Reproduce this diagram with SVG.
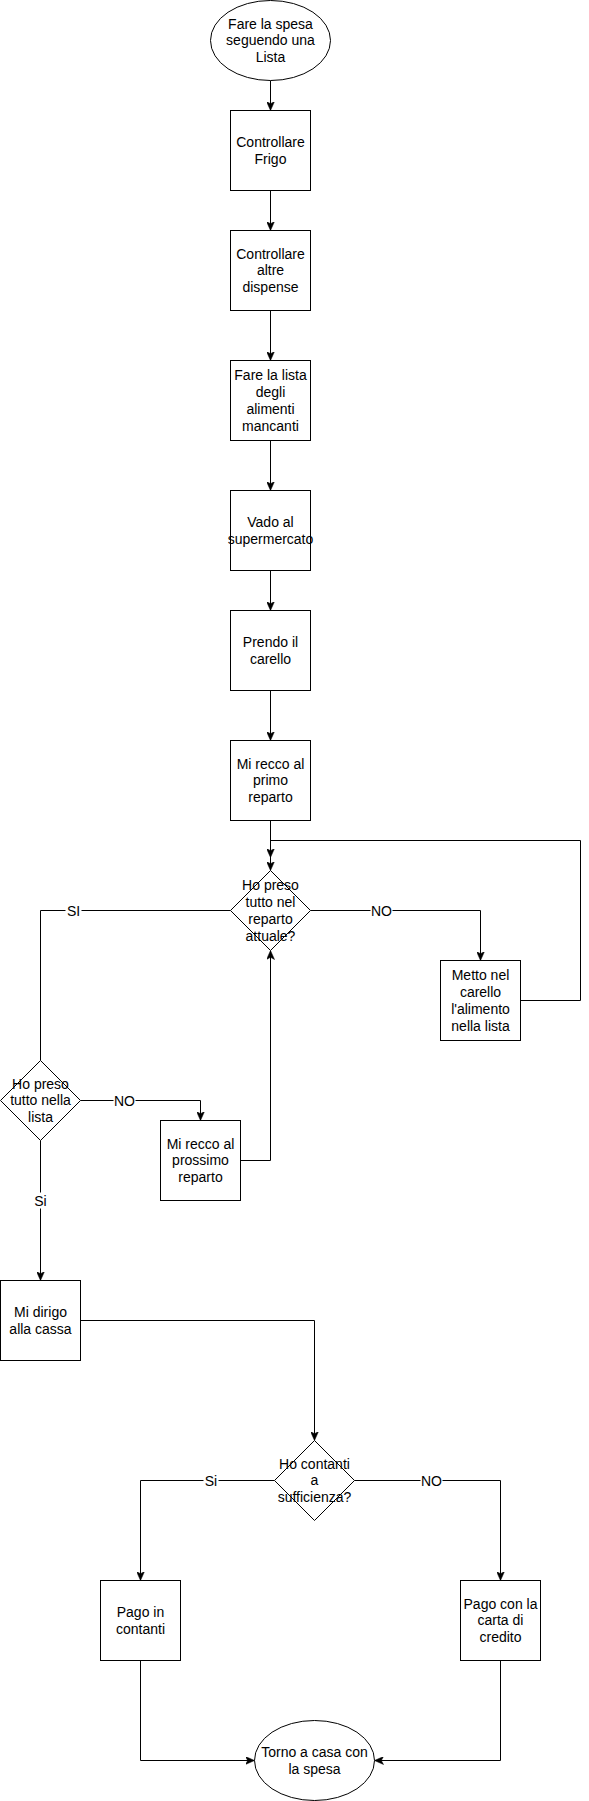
<svg xmlns="http://www.w3.org/2000/svg" width="589" height="1801" viewBox="0 0 589 1801">
<defs>
<style>
.n{fill:#fff;stroke:#000;stroke-width:1}
.e{fill:none;stroke:#000;stroke-width:1}
.t{font-family:"Liberation Sans",Arial,Helvetica,sans-serif;font-size:14px;fill:#000;text-anchor:middle}
.bg{fill:#fff;stroke:none}
</style>
<marker id="arr" markerUnits="userSpaceOnUse" markerWidth="9" markerHeight="8" viewBox="0 0 9 8" refX="9" refY="4" orient="auto">
<path d="M0,0 L9,4 L0,8 L2.2,4 z" fill="#000" stroke="#000" stroke-width="0.5"/>
</marker>
</defs>
<rect x="0" y="0" width="589" height="1801" fill="#fff"/>
<g transform="translate(0.5,0.5)">
<g id="connectors">
<path class="e" d="M270,80 L270,110" marker-end="url(#arr)"/>
<path class="e" d="M270,190 L270,230" marker-end="url(#arr)"/>
<path class="e" d="M270,310 L270,360" marker-end="url(#arr)"/>
<path class="e" d="M270,440 L270,490" marker-end="url(#arr)"/>
<path class="e" d="M270,570 L270,610" marker-end="url(#arr)"/>
<path class="e" d="M270,690 L270,740" marker-end="url(#arr)"/>
<path class="e" d="M270,820 L270,870" marker-end="url(#arr)"/>
<path class="e" d="M310,910 L480,910 L480,960" marker-end="url(#arr)"/>
<path class="e" d="M520,1000 L580,1000 L580,840 L270,840 L270,857" marker-end="url(#arr)"/>
<path class="e" d="M230,910 L40,910 L40,1060"/>
<path class="e" d="M80,1100 L200,1100 L200,1120" marker-end="url(#arr)"/>
<path class="e" d="M240,1160 L270,1160 L270,950" marker-end="url(#arr)"/>
<path class="e" d="M40,1140 L40,1280" marker-end="url(#arr)"/>
<path class="e" d="M80,1320 L314,1320 L314,1440" marker-end="url(#arr)"/>
<path class="e" d="M274,1480 L140,1480 L140,1580" marker-end="url(#arr)"/>
<path class="e" d="M354,1480 L500,1480 L500,1580" marker-end="url(#arr)"/>
<path class="e" d="M140,1660 L140,1760 L254,1760" marker-end="url(#arr)"/>
<path class="e" d="M500,1660 L500,1760 L374,1760" marker-end="url(#arr)"/>
<g id="labels">
<rect class="bg" x="65" y="902" width="16" height="16"/>
<text class="t" x="73" y="915">SI</text>
<rect class="bg" x="370" y="902" width="22" height="16"/>
<text class="t" x="381" y="915">NO</text>
<rect class="bg" x="113" y="1092" width="22" height="16"/>
<text class="t" x="124" y="1105">NO</text>
<rect class="bg" x="33" y="1192" width="14" height="16"/>
<text class="t" x="40" y="1205">Si</text>
<rect class="bg" x="203" y="1472" width="15" height="16"/>
<text class="t" x="210.5" y="1485">Si</text>
<rect class="bg" x="420" y="1472" width="22" height="16"/>
<text class="t" x="431" y="1485">NO</text>
</g>
</g>
<g id="n1"><ellipse class="n" cx="270" cy="40" rx="60" ry="40"/>
<text class="t" x="270" y="28"><tspan x="270">Fare la spesa</tspan><tspan x="270" dy="16.8">seguendo una</tspan><tspan x="270" dy="16.8">Lista</tspan></text></g>
<g id="n2"><rect class="n" x="230" y="110" width="80" height="80"/>
<text class="t" x="270" y="146.5"><tspan x="270">Controllare</tspan><tspan x="270" dy="16.8">Frigo</tspan></text></g>
<g id="n3"><rect class="n" x="230" y="230" width="80" height="80"/>
<text class="t" x="270" y="258"><tspan x="270">Controllare</tspan><tspan x="270" dy="16.8">altre</tspan><tspan x="270" dy="16.8">dispense</tspan></text></g>
<g id="n4"><rect class="n" x="230" y="360" width="80" height="80"/>
<text class="t" x="270" y="379.6"><tspan x="270">Fare la lista</tspan><tspan x="270" dy="16.8">degli</tspan><tspan x="270" dy="16.8">alimenti</tspan><tspan x="270" dy="16.8">mancanti</tspan></text></g>
<g id="n5"><rect class="n" x="230" y="490" width="80" height="80"/>
<text class="t" x="270" y="526.5"><tspan x="270">Vado al</tspan><tspan x="270" dy="16.8">supermercato</tspan></text></g>
<g id="n6"><rect class="n" x="230" y="610" width="80" height="80"/>
<text class="t" x="270" y="646.5"><tspan x="270">Prendo il</tspan><tspan x="270" dy="16.8">carello</tspan></text></g>
<g id="n7"><rect class="n" x="230" y="740" width="80" height="80"/>
<text class="t" x="270" y="768"><tspan x="270">Mi recco al</tspan><tspan x="270" dy="16.8">primo</tspan><tspan x="270" dy="16.8">reparto</tspan></text></g>
<g id="d1"><polygon class="n" points="270,870 310,910 270,950 230,910"/>
<text class="t" x="270" y="889.6"><tspan x="270">Ho preso</tspan><tspan x="270" dy="16.8">tutto nel</tspan><tspan x="270" dy="16.8">reparto</tspan><tspan x="270" dy="16.8">attuale?</tspan></text></g>
<g id="n8"><rect class="n" x="440" y="960" width="80" height="80"/>
<text class="t" x="480" y="979.6"><tspan x="480">Metto nel</tspan><tspan x="480" dy="16.8">carello</tspan><tspan x="480" dy="16.8">l'alimento</tspan><tspan x="480" dy="16.8">nella lista</tspan></text></g>
<g id="d2"><polygon class="n" points="40,1060 80,1100 40,1140 0,1100"/>
<text class="t" x="40" y="1088"><tspan x="40">Ho preso</tspan><tspan x="40" dy="16.8">tutto nella</tspan><tspan x="40" dy="16.8">lista</tspan></text></g>
<g id="n9"><rect class="n" x="160" y="1120" width="80" height="80"/>
<text class="t" x="200" y="1148"><tspan x="200">Mi recco al</tspan><tspan x="200" dy="16.8">prossimo</tspan><tspan x="200" dy="16.8">reparto</tspan></text></g>
<g id="n10"><rect class="n" x="0" y="1280" width="80" height="80"/>
<text class="t" x="40" y="1316.5"><tspan x="40">Mi dirigo</tspan><tspan x="40" dy="16.8">alla cassa</tspan></text></g>
<g id="d3"><polygon class="n" points="314,1440 354,1480 314,1520 274,1480"/>
<text class="t" x="314" y="1468"><tspan x="314">Ho contanti</tspan><tspan x="314" dy="16.8">a</tspan><tspan x="314" dy="16.8">sufficienza?</tspan></text></g>
<g id="n11"><rect class="n" x="100" y="1580" width="80" height="80"/>
<text class="t" x="140" y="1616.5"><tspan x="140">Pago in</tspan><tspan x="140" dy="16.8">contanti</tspan></text></g>
<g id="n12"><rect class="n" x="460" y="1580" width="80" height="80"/>
<text class="t" x="500" y="1608"><tspan x="500">Pago con la</tspan><tspan x="500" dy="16.8">carta di</tspan><tspan x="500" dy="16.8">credito</tspan></text></g>
<g id="n13"><ellipse class="n" cx="314" cy="1760" rx="60" ry="40"/>
<text class="t" x="314" y="1756.5"><tspan x="314">Torno a casa con</tspan><tspan x="314" dy="16.8">la spesa</tspan></text></g>
</g>
</svg>
